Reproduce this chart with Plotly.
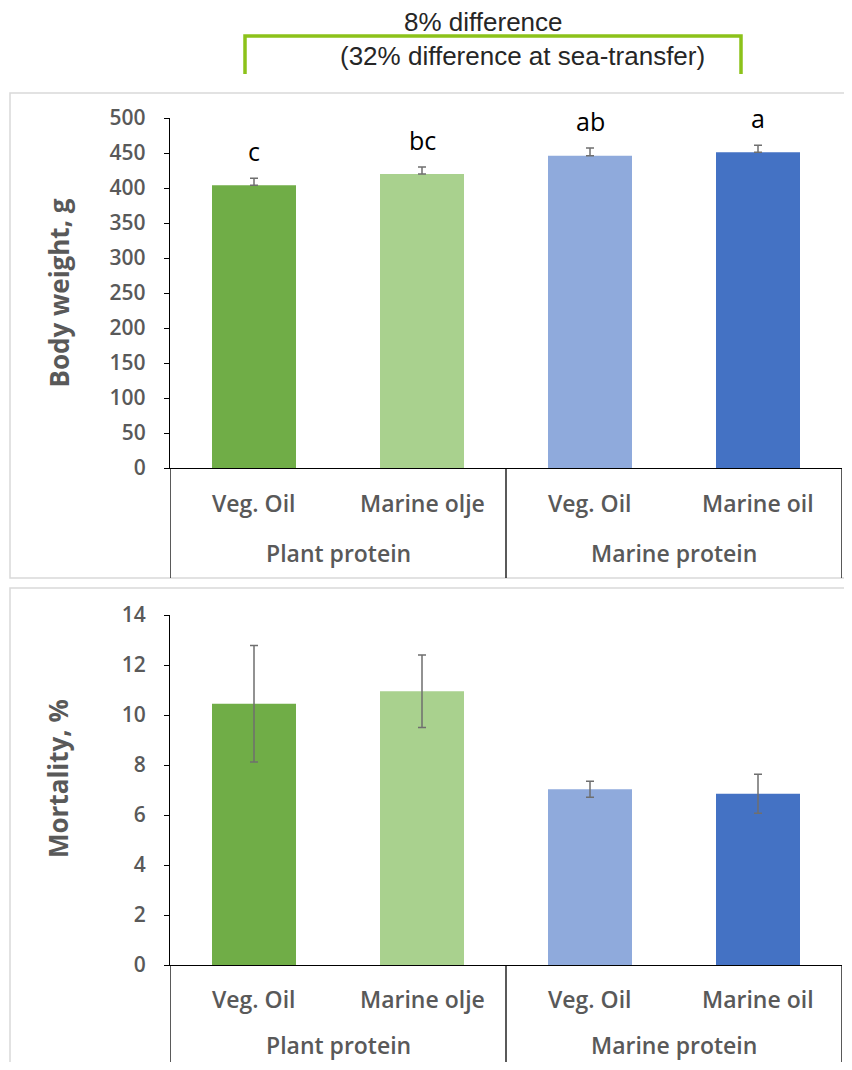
import plotly.graph_objects as go

# ---- data ----
oil_labels = ["Veg. Oil", "Marine olje", "Veg. Oil", "Marine oil"]
protein_groups = ["Plant protein", "Marine protein"]
bar_colors = ["#70AD47", "#A9D18E", "#8FAADC", "#4472C4"]

body_weight = [404, 420, 446, 451]
body_weight_err = [10, 10, 11, 10]
sig_letters = ["c", "bc", "ab", "a"]

mortality = [10.45, 10.95, 7.03, 6.85]
mortality_err = [2.33, 1.45, 0.32, 0.78]

# page body has an 8px margin; figure sized to fit inside the window
OFF = 8
W, H = 852 - 2 * OFF, 1070 - 2 * OFF
def px(p):  # reference pixel column -> paper x
    return (p - OFF) / W
def py(p):  # reference pixel row -> paper y
    return 1 - (p - OFF) / H

x_pos = list(range(len(oil_labels)))
TXT = "#595959"
FONT = "Open Sans"
TICKF = dict(family=FONT, size=21, color=TXT, weight=600)
LBL = dict(family=FONT, size=23, color=TXT, weight=600)
TITLE = dict(family=FONT, size=26, color=TXT, weight="bold")

fig = go.Figure()
fig.add_trace(go.Bar(
    x=x_pos, y=body_weight, marker=dict(color=bar_colors, line=dict(width=0)),
    width=0.5, xaxis="x", yaxis="y",
    error_y=dict(type="data", array=body_weight_err, arrayminus=[0] * 4, symmetric=False,
                 color="#6F6F6F", thickness=1.5, width=4),
    showlegend=False))
fig.add_trace(go.Bar(
    x=x_pos, y=mortality, marker=dict(color=bar_colors, line=dict(width=0)),
    width=0.5, xaxis="x2", yaxis="y2",
    error_y=dict(type="data", array=mortality_err, color="#6F6F6F", thickness=1.5, width=4),
    showlegend=False))

top_dom = [py(468), py(118)]
bot_dom = [py(965), py(615)]
xdom = [px(170), px(842)]

ax_common = dict(showgrid=False, zeroline=False, showline=True, linecolor="black", linewidth=1.3,
                 ticks="outside", ticklen=5, tickcolor="black", tickwidth=1.3,
                 tickfont=TICKF, ticklabelstandoff=14, automargin=False)
xax_common = dict(domain=xdom, range=[-0.5, 3.5], showgrid=False, zeroline=False, showticklabels=False,
                  showline=True, linecolor="black", linewidth=1.3, automargin=False)
fig.update_layout(
    width=W, height=H, margin=dict(l=0, r=0, t=0, b=0, pad=0, autoexpand=False),
    paper_bgcolor="white", plot_bgcolor="white",
    xaxis=dict(anchor="y", **xax_common),
    yaxis=dict(domain=top_dom, range=[0, 500], dtick=50, anchor="x", **ax_common,
               title=dict(text="Body weight, g", font=TITLE, standoff=32)),
    xaxis2=dict(anchor="y2", **xax_common),
    yaxis2=dict(domain=bot_dom, range=[0, 14], dtick=2, anchor="x2", **ax_common),
)

shapes = []
annotations = []
# panel borders
shapes.append(dict(type="rect", xref="paper", yref="paper", x0=px(10), x1=1.01, y0=py(578), y1=py(93),
                   line=dict(color="#D9D9D9", width=1.5), fillcolor="rgba(0,0,0,0)"))
shapes.append(dict(type="rect", xref="paper", yref="paper", x0=px(10), x1=1.01, y0=-0.01, y1=py(588),
                   line=dict(color="#D9D9D9", width=1.5), fillcolor="rgba(0,0,0,0)"))

# mortality axis title (sits slightly above axis centre, as in the reference)
annotations.append(dict(x=px(58), y=py(779), xref="paper", yref="paper", text="Mortality, %", textangle=-90,
                        showarrow=False, font=TITLE, xanchor="center", yanchor="middle"))

# multi-level category axes
for xr, y0p, lab_p, grp_p, bottom_p in [("x", 468, 503, 553, 578), ("x2", 965, 999, 1045, 1070)]:
    for xv in [-0.5, 1.5, 3.5]:
        shapes.append(dict(type="line", xref=xr, yref="paper", x0=xv, x1=xv, y0=py(y0p), y1=py(bottom_p),
                           line=dict(color="black", width=1.3)))
    for i, lab in enumerate(oil_labels):
        annotations.append(dict(x=i, xref=xr, y=py(lab_p), yref="paper", text=lab, showarrow=False,
                                font=LBL, xanchor="center", yanchor="middle"))
    for g, grp in enumerate(protein_groups):
        annotations.append(dict(x=0.5 + 2 * g, xref=xr, y=py(grp_p), yref="paper", text=grp, showarrow=False,
                                font=LBL, xanchor="center", yanchor="middle"))

# significance letters
for i, (v, e, s) in enumerate(zip(body_weight, body_weight_err, sig_letters)):
    annotations.append(dict(x=i, xref="x", y=v + e, yref="y", yshift=27, text=s, showarrow=False,
                            font=dict(family=FONT, size=25, color="black"), xanchor="center", yanchor="middle"))

# green bracket
bracket = "#8CC21A"
shapes.append(dict(type="path", xref="paper", yref="paper",
                   path=f"M {px(245)},{py(74)} L {px(245)},{py(36)} L {px(741)},{py(36)} L {px(741)},{py(74)}",
                   line=dict(color=bracket, width=3.5)))
BFONT = dict(family="Liberation Sans", size=26, color="#262626")
annotations.append(dict(x=px(483), y=py(22), xref="paper", yref="paper", text="8% difference", showarrow=False,
                        font=BFONT, xanchor="center", yanchor="middle"))
annotations.append(dict(x=px(522), y=py(56), xref="paper", yref="paper", text="(32% difference at sea-transfer)",
                        showarrow=False, font=BFONT, xanchor="center", yanchor="middle"))

fig.update_layout(shapes=shapes, annotations=annotations)
fig.write_html("out.html")
